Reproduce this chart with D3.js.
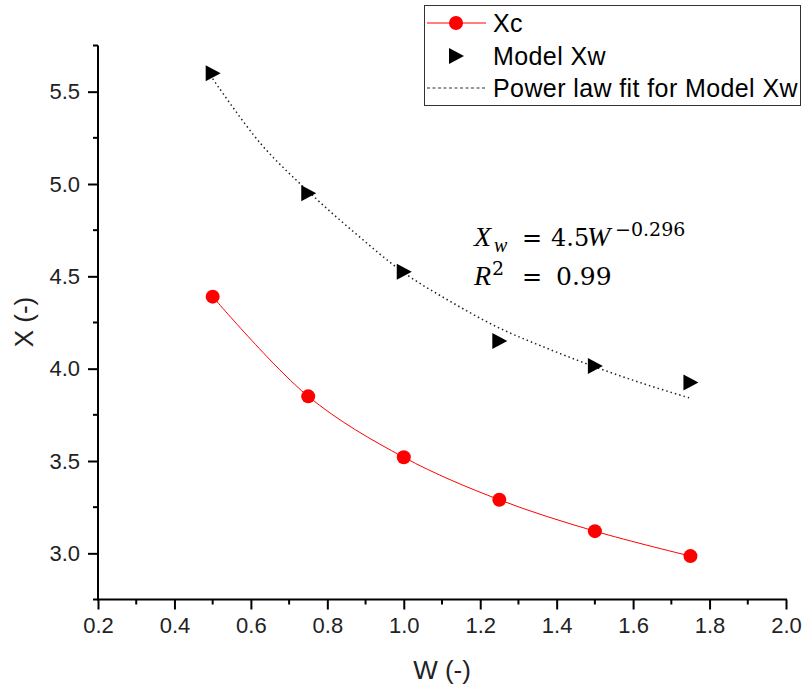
<!DOCTYPE html>
<html>
<head>
<meta charset="utf-8">
<script src="https://cdn.jsdelivr.net/npm/d3@7"></script>
<style>
body{margin:0;background:#fff;}
svg{display:block;}
</style>
</head>
<body>
<svg id="chart" width="805" height="691"></svg>
<script>
const wValues = [0.5, 0.75, 1.0, 1.25, 1.5, 1.75];
const xcValues = [4.39, 3.85, 3.52, 3.29, 3.12, 2.985];
const modelXwValues = [5.60, 4.95, 4.525, 4.15, 4.015, 3.925];
const fitW = [0.5, 0.625, 0.75, 0.875, 1.0, 1.125, 1.25, 1.375, 1.5, 1.625, 1.75];
const fitValues = [5.57, 5.22, 4.96, 4.73, 4.52, 4.36, 4.22, 4.11, 4.01, 3.92, 3.84];
const xTicks = [0.2, 0.4, 0.6, 0.8, 1.0, 1.2, 1.4, 1.6, 1.8, 2.0];
const yTicks = [3.0, 3.5, 4.0, 4.5, 5.0, 5.5];
const legendLabels = ["Xc", "Model Xw", "Power law fit for Model Xw"];

const SANS = "'Liberation Sans', Arial, sans-serif";
const SERIF = "'Liberation Serif', 'Times New Roman', serif";
const MATHNUM = "'DejaVu Serif', serif";

const svg = d3.select("#chart");
const x = d3.scaleLinear().domain([0.2, 2.0]).range([98, 786]);
const y = d3.scaleLinear().domain([2.75, 5.75]).range([599.5, 45.5]);

const xMinor = d3.range(0.3, 2.0, 0.2);
const yMinor = d3.range(2.75, 5.76, 0.5);

const gx = svg.append("g").attr("transform", "translate(0,599.5)");
gx.call(d3.axisBottom(x).tickValues(xTicks).tickFormat(d3.format(".1f")).tickSize(10).tickPadding(8));
gx.select(".domain").remove();
gx.append("line").attr("x1", x(0.2) - 1).attr("x2", x(2.0) + 1).attr("stroke", "#000").attr("stroke-width", 2);
gx.selectAll(".tick line").attr("stroke", "#000").attr("stroke-width", 2);
gx.selectAll(".tick text").style("font-size", "22px").style("font-family", SANS).attr("fill", "#222");
gx.selectAll(".minor").data(xMinor).enter().append("line")
  .attr("x1", d => x(d)).attr("x2", d => x(d)).attr("y1", 0).attr("y2", 5)
  .attr("stroke", "#000").attr("stroke-width", 2);

const gy = svg.append("g").attr("transform", "translate(98,0)");
gy.call(d3.axisLeft(y).tickValues(yTicks).tickFormat(d3.format(".1f")).tickSize(10).tickPadding(8));
gy.select(".domain").remove();
gy.append("line").attr("y1", y(2.75) + 1).attr("y2", y(5.75)).attr("stroke", "#000").attr("stroke-width", 2);
gy.selectAll(".tick line").attr("stroke", "#000").attr("stroke-width", 2);
gy.selectAll(".tick text").style("font-size", "22px").style("font-family", SANS).attr("fill", "#222");
gy.selectAll(".minor").data(yMinor).enter().append("line")
  .attr("y1", d => y(d)).attr("y2", d => y(d)).attr("x1", 0).attr("x2", -5)
  .attr("stroke", "#000").attr("stroke-width", 2);

// axis titles
svg.append("text").attr("x", 442).attr("y", 679).attr("text-anchor", "middle")
  .style("font-size", "26px").style("font-family", SANS).attr("fill", "#222").text("W (-)");
svg.append("text").attr("transform", "translate(33,322) rotate(-90)").attr("text-anchor", "middle")
  .style("font-size", "26px").style("font-family", SANS).attr("fill", "#222").text("X (-)");

// fit line
const fitData = fitW.map((w, i) => [w, fitValues[i]]);
svg.append("path").datum(fitData)
  .attr("d", d3.line().x(d => x(d[0])).y(d => y(d[1])).curve(d3.curveCatmullRom))
  .attr("fill", "none").attr("stroke", "#222").attr("stroke-width", 1.5).attr("stroke-dasharray", "1.5,3");

// Xc line
const xcData = wValues.map((w, i) => [w, xcValues[i]]);
svg.append("path").datum(xcData)
  .attr("d", d3.line().x(d => x(d[0])).y(d => y(d[1])).curve(d3.curveCatmullRom))
  .attr("fill", "none").attr("stroke", "#ff0000").attr("stroke-width", 1);
svg.selectAll(".xc").data(xcData).enter().append("circle")
  .attr("cx", d => x(d[0])).attr("cy", d => y(d[1])).attr("r", 7).attr("fill", "#ff0000");

// Model Xw triangles
const tri = "M-7,-8 L8,0 L-7,8 Z";
const mData = wValues.map((w, i) => [w, modelXwValues[i]]);
svg.selectAll(".mx").data(mData).enter().append("path")
  .attr("d", tri).attr("transform", d => `translate(${x(d[0])},${y(d[1])})`).attr("fill", "#000");

// annotation (equation)
const ann = svg.append("g").attr("fill", "#000");
function piece(txt, px, py, size, italic, fam) {
  ann.append("text").attr("x", px).attr("y", py).text(txt)
    .style("font-family", fam || SERIF).style("font-size", size + "px")
    .style("font-style", italic ? "italic" : "normal");
}
piece("X", 474, 246, 28, true);
piece("w", 494, 252, 20, true);
piece("=", 522, 246, 24, false, MATHNUM);
piece("4.5", 551, 246, 24, false, MATHNUM);
piece("W", 587, 246, 28, true);
piece("−0.296", 615, 236, 19, false, MATHNUM);
piece("R", 474, 285, 28, true);
piece("2", 492, 275, 19, false, MATHNUM);
piece("=", 522, 285, 24, false, MATHNUM);
piece("0.99", 556, 285, 25, false, MATHNUM);

// legend
const lg = svg.append("g");
lg.append("rect").attr("x", 424.5).attr("y", 5.5).attr("width", 376).attr("height", 100)
  .attr("fill", "#fff").attr("stroke", "#333").attr("stroke-width", 1);
const rows = [23, 56, 88];
lg.append("line").attr("x1", 427).attr("x2", 486).attr("y1", rows[0]).attr("y2", rows[0]).attr("stroke", "#ff0000").attr("stroke-width", 1);
lg.append("circle").attr("cx", 456).attr("cy", rows[0]).attr("r", 7).attr("fill", "#ff0000");
lg.append("path").attr("d", tri).attr("transform", `translate(456,${rows[1]})`).attr("fill", "#000");
lg.append("line").attr("x1", 427).attr("x2", 486).attr("y1", rows[2]).attr("y2", rows[2]).attr("stroke", "#333").attr("stroke-width", 1.2).attr("stroke-dasharray", "3,2.5");
lg.selectAll(".lt").data(legendLabels).enter().append("text")
  .attr("x", 493).attr("y", (d, i) => rows[i] + 9)
  .style("font-size", "25px").style("font-family", SANS).style("letter-spacing", "0.4px")
  .attr("fill", "#000").text(d => d);
</script>
</body>
</html>
